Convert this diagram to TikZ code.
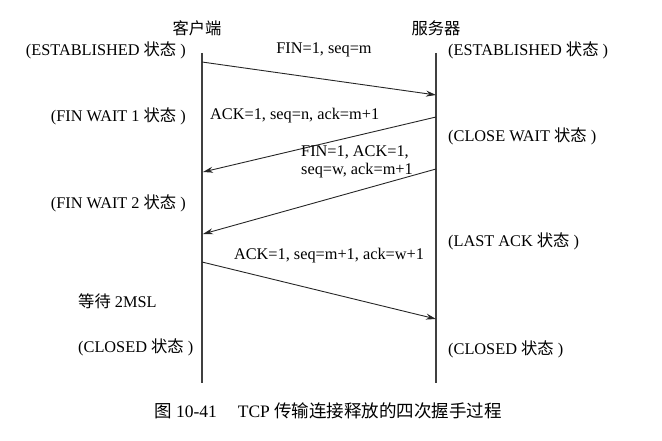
\documentclass[tikz,border=0pt]{standalone}
\usepackage{fontspec}
\setmainfont{Liberation Serif}
\newfontfamily\cjk{Noto Sans CJK SC}
\usetikzlibrary{arrows.meta}
\begin{document}
\begin{tikzpicture}[x=1pt,y=-1pt,
  lbl/.style={font=\fontsize{16.3}{18.5}\selectfont, inner sep=0pt},
  life/.style={draw=black!75, line width=1.1pt},
  msg/.style={draw=black!85, line width=0.9pt, -{Stealth[length=10pt,width=6pt]}}]
\useasboundingbox (0,0) rectangle (662,441);
% lifelines
\coordinate (ct) at (202,53); \coordinate (cb) at (202,383);
\coordinate (st) at (436,53); \coordinate (sb) at (436,383);
\draw[life] (ct) -- (cb);
\draw[life] (st) -- (sb);
% titles
\node[lbl] (tc) at (197,28) {\cjk 客户端};
\node[lbl] (ts) at (436,28) {\cjk 服务器};
% message endpoints
\coordinate (m1a) at (202,62);  \coordinate (m1b) at (436,95);
\coordinate (m2a) at (436,117); \coordinate (m2b) at (203,172);
\coordinate (m3a) at (436,169); \coordinate (m3b) at (203,234);
\coordinate (m4a) at (202,262); \coordinate (m4b) at (436,319);
\draw[msg] (m1a) -- (m1b);
\draw[msg] (m2a) -- (m2b);
\draw[msg] (m3a) -- (m3b);
\draw[msg] (m4a) -- (m4b);
% message labels
\node[lbl] (l1) at (324,50) {FIN=1, seq=m};
\node[lbl, anchor=west] (l2) at (210,116) {ACK=1, seq=n, ack=m+1};
\node[lbl, align=left, anchor=west] (l3) at (301,162) {FIN=1, ACK=1,\\seq=w, ack=m+1};
\node[lbl] (l4) at (329,256) {ACK=1, seq=m+1, ack=w+1};
% client states
\node[lbl, anchor=east] (c1) at (186,50) {(ESTABLISHED {\cjk 状态} )};
\node[lbl, anchor=east] (c2) at (186,116) {(FIN WAIT 1 {\cjk 状态} )};
\node[lbl, anchor=east] (c3) at (186,203) {(FIN WAIT 2 {\cjk 状态} )};
\node[lbl, anchor=west] (c4) at (78,301) {{\cjk 等待} 2MSL};
\node[lbl, anchor=west] (c5) at (78,347) {(CLOSED {\cjk 状态} )};
% server states
\node[lbl, anchor=west] (s1) at (448,50) {(ESTABLISHED {\cjk 状态} )};
\node[lbl, anchor=west] (s2) at (448,136) {(CLOSE WAIT {\cjk 状态} )};
\node[lbl, anchor=west] (s3) at (448,241) {(LAST ACK {\cjk 状态} )};
\node[lbl, anchor=west] (s4) at (448,349) {(CLOSED {\cjk 状态} )};
% caption
\node[lbl, font=\fontsize{17.5}{20}\selectfont] (cap) at (328,411) {{\cjk 图} 10-41\hspace{1.2em}TCP {\cjk 传输连接释放的四次握手过程}};
\end{tikzpicture}
\end{document}
